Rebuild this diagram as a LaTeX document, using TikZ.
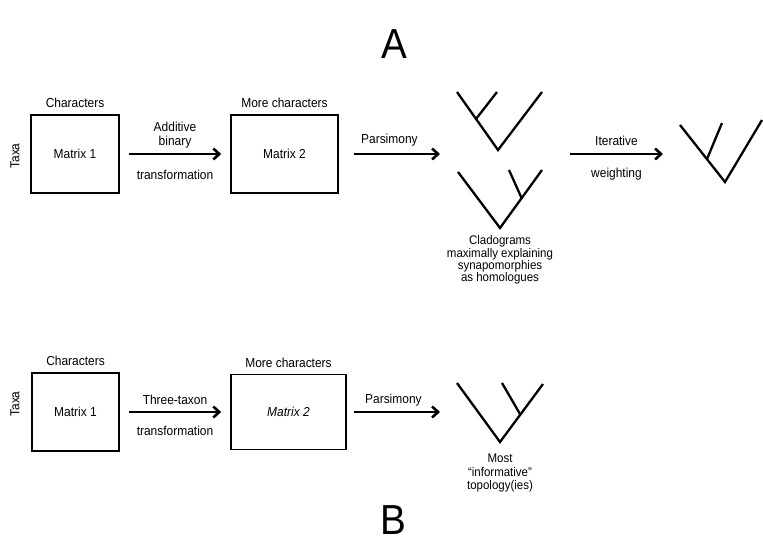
\documentclass[tikz,border=0pt]{standalone}
\usepackage{fontspec}
\setmainfont{Liberation Sans}[FakeStretch=0.92]
\usetikzlibrary{arrows.meta}
\usetikzlibrary{positioning}
\tikzstyle{matrixBox} = [draw, line width=1.6pt, minimum width=88pt, minimum height=78pt, inner sep=0pt, font=\fontsize{13}{15}\selectfont]
\tikzstyle{arrow} = [line width=2.6pt, -{Straight Barb[length=6pt,width=11pt]}]
\tikzstyle{tree} = [line width=2.3pt]
\tikzstyle{lbl} = [inner sep=0pt, font=\fontsize{13}{14}\selectfont]
\tikzstyle{panel} = [inner sep=0pt, font=\fontsize{42}{42}\selectfont]

\begin{document}
\begin{tikzpicture}[x=1pt, y=-1pt, label distance=6pt]
\useasboundingbox (0,0) rectangle (763,542);
% ---- A ----
\node (A) [panel] at (394,44) {A};
\node (taxaA) [lbl, rotate=90] at (15,156) {Taxa};
\node (m1a) [matrixBox, label={[lbl]above:Characters}] at (75,154) {Matrix 1};
\node (m2a) [matrixBox, minimum width=107pt, label={[lbl]above:More characters}] at (284.5,154) {Matrix 2};
\coordinate (cladA) at (440,154);
\coordinate (iterA) at (570,154);
\coordinate (finalA) at (663,154);
\draw [arrow, shorten <=9pt, shorten >=9pt] (m1a) -- node[lbl, above=5pt, align=center] {Additive\\binary} node[lbl, below=15pt] {transformation} (m2a);
\draw [arrow, shorten <=15pt] (m2a) -- node[lbl, above=7pt] {Parsimony} (cladA);
\draw [arrow] (iterA) -- node[lbl, above=7pt] {Iterative} node[lbl, below=13pt] {weighting} (finalA);
% cladograms
\draw [tree] (457,92) -- (498,150) -- (542,92);
\draw [tree] (497,92) -- (476,119);
\draw [tree] (458,172) -- (500,228) -- (542,170);
\draw [tree] (509,170) -- (522,199);
\node (cladText) [lbl, align=center, font=\fontsize{12.5}{12.4}\selectfont] at (500,260) {Cladograms\\maximally explaining\\synapomorphies\\as homologues};
\draw [tree] (680,125) -- (725,182) -- (762,120);
\draw [tree] (722,123) -- (707,159);
% ---- B ----
\node (taxaB) [lbl, rotate=90] at (15,404) {Taxa};
\node (m1b) [matrixBox, minimum width=87pt, label={[lbl]above:Characters}] at (75.5,412) {Matrix 1};
\node (m2b) [matrixBox, minimum width=115pt, minimum height=75pt, label={[lbl]above:More characters}, font=\fontsize{13}{15}\selectfont\itshape] at (288.5,412) {Matrix 2};
\coordinate (cladB) at (440,412);
\draw [arrow, shorten <=9pt, shorten >=9pt] (m1b) -- node[lbl, above=6pt] {Three-taxon} node[lbl, below=13pt] {transformation} (m2b);
\draw [arrow, shorten <=7pt] (m2b) -- node[lbl, above=5pt] {Parsimony} (cladB);
\draw [tree] (457,383) -- (500,442) -- (543,384);
\draw [tree] (502,383) -- (520,414);
\node (mostText) [lbl, align=center, font=\fontsize{12.5}{13.5}\selectfont] at (500,473) {Most\\``informative''\\topology(ies)};
\node (B) [panel] at (393,520) {B};
\end{tikzpicture}
\end{document}
